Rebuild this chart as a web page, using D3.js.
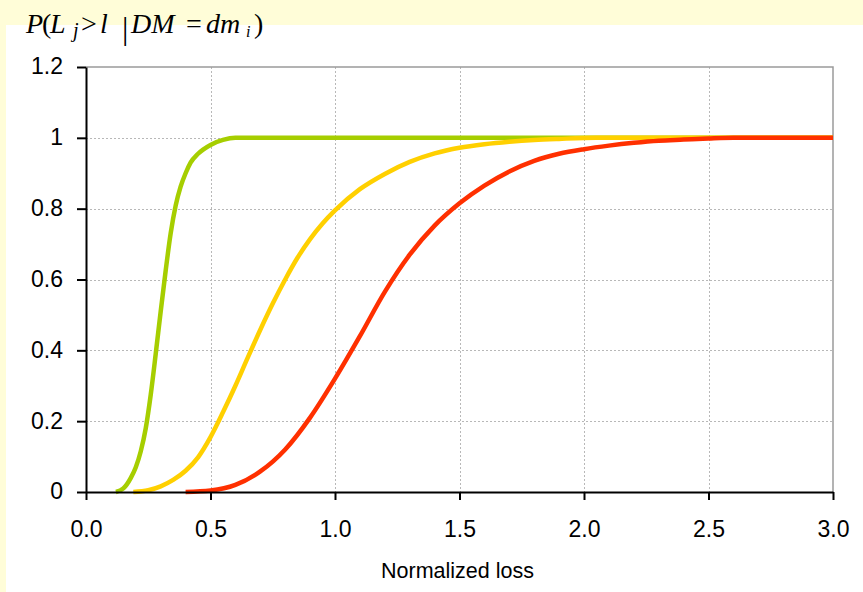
<!DOCTYPE html>
<html>
<head>
<meta charset="utf-8">
<script src="https://cdn.jsdelivr.net/npm/d3@7"></script>
<style>
  html, body { margin: 0; padding: 0; background: #FFFDD8; }
  svg { display: block; }
</style>
</head>
<body>
<svg id="chart" width="863" height="592"></svg>
<script>
// ---- data ----
const xTickValues = [0, 0.5, 1.0, 1.5, 2.0, 2.5, 3.0];
const xTickLabels = ["0.0", "0.5", "1.0", "1.5", "2.0", "2.5", "3.0"];
const yTickValues = [0, 0.2, 0.4, 0.6, 0.8, 1.0, 1.2];
const yTickLabels = ["0", "0.2", "0.4", "0.6", "0.8", "1", "1.2"];
const xTitle = "Normalized loss";

const seriesNames = ["dm1", "dm2", "dm3"];
const seriesColors = ["#A6CE00", "#FFD000", "#FF3000"];

const greenX = [0.12, 0.15, 0.18, 0.20, 0.22, 0.24, 0.26, 0.28, 0.30, 0.32, 0.34, 0.36, 0.38, 0.40, 0.42, 0.45, 0.50, 0.55, 0.60, 3.0];
const greenY = [0, 0.01, 0.04, 0.07, 0.115, 0.18, 0.275, 0.39, 0.51, 0.625, 0.73, 0.808, 0.862, 0.9, 0.93, 0.955, 0.98, 0.994, 1, 1];

const yellowX = [0.19, 0.25, 0.30, 0.35, 0.40, 0.45, 0.50, 0.55, 0.60, 0.65, 0.70, 0.75, 0.80, 0.85, 0.90, 0.95, 1.0, 1.1, 1.2, 1.3, 1.4, 1.5, 1.6, 1.7, 1.8, 1.9, 2.05, 3.0];
const yellowY = [0, 0.005, 0.016, 0.034, 0.06, 0.098, 0.155, 0.225, 0.30, 0.38, 0.458, 0.532, 0.60, 0.662, 0.714, 0.758, 0.795, 0.855, 0.898, 0.932, 0.956, 0.972, 0.982, 0.989, 0.994, 0.997, 1, 1];

const redX = [0.40, 0.5, 0.6, 0.7, 0.8, 0.9, 1.0, 1.1, 1.2, 1.3, 1.4, 1.5, 1.6, 1.7, 1.8, 1.9, 2.0, 2.1, 2.2, 2.3, 2.4, 2.5, 2.6, 3.0];
const redY = [0, 0.004, 0.02, 0.058, 0.12, 0.21, 0.32, 0.44, 0.565, 0.67, 0.752, 0.815, 0.865, 0.905, 0.935, 0.955, 0.968, 0.978, 0.986, 0.992, 0.995, 0.998, 1, 1];

// ---- layout ----
const svg = d3.select("#chart");
const W = 863, H = 592;
const plot = { left: 86, right: 833, top: 67, bottom: 492 };

svg.append("rect").attr("x", 0).attr("y", 0).attr("width", W).attr("height", H).attr("fill", "#FFFDD8");
svg.append("rect").attr("x", 6).attr("y", 25).attr("width", W - 6).attr("height", H - 25).attr("fill", "#FFFFFF");

const x = d3.scaleLinear().domain([0, 3]).range([plot.left, plot.right]);
const y = d3.scaleLinear().domain([0, 1.2]).range([plot.bottom, plot.top]);

// gridlines
const grid = svg.append("g").attr("stroke", "#B8B8B8").attr("stroke-width", 1).attr("stroke-dasharray", "2,2");
grid.selectAll("line.h").data(yTickValues.filter(v => v > 0 && v < 1.2)).join("line")
  .attr("x1", plot.left).attr("x2", plot.right)
  .attr("y1", d => Math.round(y(d)) + 0.5).attr("y2", d => Math.round(y(d)) + 0.5);
grid.selectAll("line.v").data(xTickValues.filter(v => v > 0 && v < 3)).join("line")
  .attr("y1", plot.top).attr("y2", plot.bottom)
  .attr("x1", d => Math.round(x(d)) + 0.5).attr("x2", d => Math.round(x(d)) + 0.5);

// plot border top/right
svg.append("path")
  .attr("d", `M${plot.left},${plot.top}H${plot.right}V${plot.bottom}`)
  .attr("fill", "none").attr("stroke", "#9A9A9A").attr("stroke-width", 1.5);

// series
const series = [
  greenX.map((v, i) => [v, greenY[i]]),
  yellowX.map((v, i) => [v, yellowY[i]]),
  redX.map((v, i) => [v, redY[i]])
];
const line = d3.line().x(d => x(d[0])).y(d => y(d[1])).curve(d3.curveMonotoneX);
svg.append("g").selectAll("path").data(series).join("path")
  .attr("d", line)
  .attr("fill", "none")
  .attr("stroke", (d, i) => seriesColors[i])
  .attr("stroke-width", 4.5)
  .attr("stroke-linejoin", "round");

// axes
const xAxis = d3.axisBottom(x).tickValues(xTickValues)
  .tickFormat((d, i) => xTickLabels[i]).tickSize(8).tickSizeOuter(0).tickPadding(21);
const gx = svg.append("g").attr("transform", `translate(0,${plot.bottom})`).call(xAxis);

const yAxis = d3.axisLeft(y).tickValues(yTickValues)
  .tickFormat((d, i) => yTickLabels[i]).tickSize(9).tickSizeOuter(0).tickPadding(14);
const gy = svg.append("g").attr("transform", `translate(${plot.left},0)`).call(yAxis);

[gx, gy].forEach(g => {
  g.select(".domain").attr("stroke", "#000").attr("stroke-width", 2);
  g.selectAll(".tick line").attr("stroke", "#000").attr("stroke-width", 2);
  g.selectAll(".tick text").attr("fill", "#000")
    .style("font-family", "'Liberation Sans', Arial, sans-serif").style("font-size", "23px");
});
gy.selectAll(".tick text").attr("dy", "0.3em");

// x axis title
svg.append("text")
  .attr("x", (plot.left + plot.right) / 2 - 2).attr("y", 578)
  .attr("text-anchor", "middle")
  .style("font-family", "'Liberation Sans', Arial, sans-serif").style("font-size", "21.5px")
  .attr("fill", "#000")
  .text(xTitle);

// y axis formula title: P(L_j > l | DM = dm_i)
const titleParts = [
  { t: "P", x: 26, it: true, size: 28, base: 33 },
  { t: "(", x: 42, it: false, size: 28, base: 33 },
  { t: "L", x: 50, it: true, size: 28, base: 33 },
  { t: "j", x: 73, it: true, size: 20, base: 37 },
  { t: ">", x: 81, it: false, size: 28, base: 33 },
  { t: "l", x: 100, it: true, size: 28, base: 33 },
  { t: "|", x: 122, it: false, size: 32, base: 39 },
  { t: "DM", x: 131, it: true, size: 28, base: 33 },
  { t: "=", x: 186, it: false, size: 28, base: 33 },
  { t: "dm", x: 206, it: true, size: 28, base: 33 },
  { t: "i", x: 246, it: true, size: 16, base: 37 },
  { t: ")", x: 254, it: false, size: 28, base: 33 }
];
const title = svg.append("g")
  .style("font-family", "'Liberation Serif', 'Times New Roman', serif").attr("fill", "#000");
titleParts.forEach(p => {
  title.append("text")
    .attr("x", p.x)
    .attr("y", p.base)
    .style("font-style", p.it ? "italic" : "normal")
    .style("font-size", p.size + "px")
    .text(p.t);
});
</script>
</body>
</html>
